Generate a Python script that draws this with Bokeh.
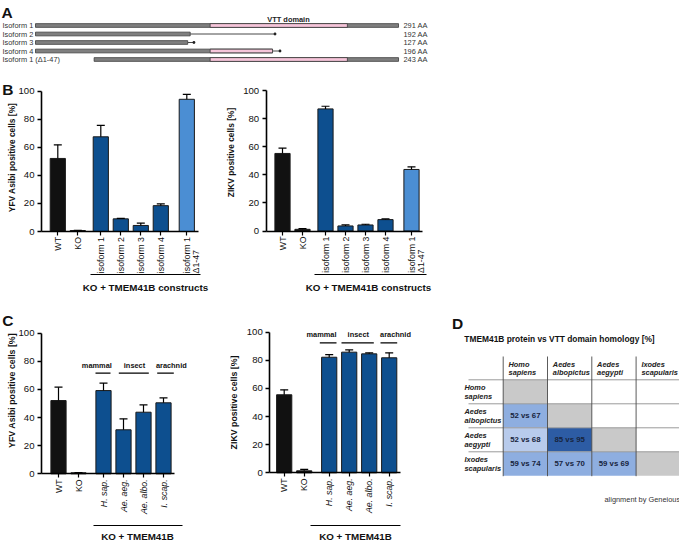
import math
from bokeh.plotting import figure
from bokeh.layouts import column, row
from bokeh.models import FixedTicker, Label, LinearAxis, Spacer
from bokeh.core.properties import value
from bokeh.embed import file_html
from bokeh.resources import INLINE

# ------------------------------------------------------------------ data
# Panel A : TMEM41B isoforms (amino-acid coordinates)
isoform_labels = ["Isoform 1", "Isoform 2", "Isoform 3", "Isoform 4", "Isoform 1 (\u03941-47)"]
isoform_aa = [291, 192, 127, 196, 243]
isoform_start = [0, 0, 0, 0, 47]
isoform_shared_end = [291, 124, 122, 190, 291]
vtt_domain = [140, 250]

# Panel B
b_categories = ["WT", "KO", "isoform 1", "isoform 2", "isoform 3", "isoform 4", "isoform 1|\u03941-47"]
b_kind = ["ctrl", "ctrl", "iso", "iso", "iso", "iso", "delta"]
yfv_b = [52.0, 0.7, 67.4, 9.0, 4.3, 18.4, 94.1]
yfv_b_err = [9.7, 0.2, 8.2, 0.4, 1.7, 1.2, 3.5]
zikv_b = [55.2, 1.2, 86.9, 3.6, 4.3, 8.1, 43.8]
zikv_b_err = [3.8, 0.5, 1.9, 0.7, 0.5, 0.5, 1.9]

# Panel C
c_categories = ["WT", "KO", "H. sap.", "Ae. aeg.", "Ae. albo.", "I. scap."]
c_kind = ["ctrl", "ctrl", "iso", "iso", "iso", "iso"]
yfv_c = [52.1, 0.7, 59.2, 31.3, 43.8, 50.5]
yfv_c_err = [9.5, 0.2, 5.3, 7.8, 5.2, 3.5]
zikv_c = [55.5, 1.4, 82.2, 85.8, 84.6, 81.8]
zikv_c_err = [3.5, 1.0, 1.9, 1.6, 0.7, 3.5]
c_groups = ["mammal", "insect", "arachnid"]

# Panel D : protein vs VTT-domain identity [%]
species = ["Homo sapiens", "Aedes albopictus", "Aedes aegypti", "Ixodes scapularis"]
pair_row = ["Aedes albopictus", "Aedes aegypti", "Aedes aegypti",
            "Ixodes scapularis", "Ixodes scapularis", "Ixodes scapularis"]
pair_col = ["Homo sapiens", "Homo sapiens", "Aedes albopictus",
            "Homo sapiens", "Aedes albopictus", "Aedes aegypti"]
protein_identity = [52, 52, 85, 59, 57, 59]
vtt_identity = [67, 68, 95, 74, 70, 69]

# ------------------------------------------------------------------ style
FONT = "Liberation Sans"
KIND_COLOR = {"ctrl": "#111111", "iso": "#0d4f8f", "delta": "#4b8ed3"}
CELL_FILL = ["#8eaee0", "#b8cbec", "#2d5ca4", "#8eaee0", "#8eaee0", "#8eaee0"]


def fpx(v):
    return value(f"{v:.2f}px")


def spx(v):
    return f"{v:.2f}px"


def base_fig(box, xr, yr):
    bl, bt, br, bb = box
    p = figure(width=int(br - bl), height=int(bb - bt), toolbar_location=None,
               output_backend="svg", x_axis_location=None, y_axis_location=None,
               x_range=xr, y_range=yr, min_border=0,
               min_border_left=0, min_border_right=0, min_border_top=0, min_border_bottom=0)
    p.outline_line_color = None
    p.xgrid.visible = False
    p.ygrid.visible = False
    p.background_fill_color = "white"
    p.border_fill_color = "white"
    return p


def bar_panel(box, axis_x, px0, py100, py0, offsets, cats, kinds, vals, errs,
              italic_from, ylabel, ylabel_xy, ylabel_size, bracket, bracket_text,
              letter=None, groups=None):
    bl, bt, br, bb = box
    ppu = 20.0
    ppy = (py0 - py100) / 100.0
    X = lambda px: (px - px0) / ppu
    Y = lambda py: (py0 - py) / ppy
    p = base_fig(box, (X(bl), X(br)), (Y(bb), Y(bt)))

    pos = [i + o for i, o in enumerate(offsets)]
    half = 0.38

    yax = LinearAxis(ticker=FixedTicker(ticks=[0, 20, 40, 60, 80, 100], minor_ticks=[]),
                     bounds=(0, 100), fixed_location=X(axis_x),
                     axis_line_width=1.6, axis_line_color="black",
                     major_tick_line_width=1.4, major_tick_out=4, major_tick_in=0,
                     minor_tick_out=0, minor_tick_in=0,
                     major_label_text_font=FONT, major_label_text_font_size=spx(9.6),
                     major_label_text_color="#111111", major_label_standoff=3)
    p.add_layout(yax, "left")
    xax = LinearAxis(ticker=FixedTicker(ticks=pos, minor_ticks=[]),
                     bounds=(X(axis_x), pos[-1] + half + 0.18), fixed_location=0,
                     axis_line_width=1.6, axis_line_color="black",
                     major_tick_line_width=1.2, major_tick_out=4, major_tick_in=0,
                     minor_tick_out=0, minor_tick_in=0,
                     major_label_overrides={float(v): "" for v in pos},
                     major_label_text_font_size="1px", major_label_standoff=0)
    p.add_layout(xax, "below")

    colors = [KIND_COLOR[k] for k in kinds]
    p.vbar(x=pos, top=vals, bottom=0, width=2 * half, fill_color=colors,
           line_color="#1a1a1a", line_width=1)
    tops = [v + e for v, e in zip(vals, errs)]
    p.segment(x0=pos, y0=vals, x1=pos, y1=tops, line_color="black", line_width=1.2)
    p.segment(x0=[x - 0.2 for x in pos], y0=tops, x1=[x + 0.2 for x in pos], y1=tops,
              line_color="black", line_width=1.2)

    # category labels (rotated)
    top_y = Y(py0 + 5.5)
    first = [c.split("|")[0] for c in cats]
    reg_i = [i for i in range(len(cats)) if i < italic_from]
    ita_i = [i for i in range(len(cats)) if i >= italic_from]
    for idx, style in ((reg_i, "normal"), (ita_i, "italic")):
        if not idx:
            continue
        p.text(x=[pos[i] for i in idx], y=[top_y] * len(idx), text=[first[i] for i in idx],
               angle=math.pi / 2, text_align="right", text_baseline="middle",
               text_font=value(FONT), text_font_size=fpx(8.8), text_font_style=style,
               text_color="#111111")
    second = [(pos[i], c.split("|")[1]) for i, c in enumerate(cats) if "|" in c]
    if second:
        p.text(x=[s[0] + 0.45 for s in second], y=[Y(py0 + 5.5 + 36.5)] * len(second),
               text=[s[1] for s in second], angle=math.pi / 2, text_align="left",
               text_baseline="middle", text_font=value(FONT), text_font_size=fpx(8.8),
               text_color="#111111")

    # bracket under the axis
    bx0, bx1, by, tx, ty = bracket
    p.segment(x0=[X(bx0)], y0=[Y(by)], x1=[X(bx1)], y1=[Y(by)], line_color="black",
              line_width=1)
    p.add_layout(Label(x=X(tx), y=Y(ty), text=bracket_text, text_align="center",
                       text_baseline="middle", text_font=FONT, text_font_size=spx(9.8),
                       text_font_style="bold", text_color="#111111"))

    # y label
    p.add_layout(Label(x=X(ylabel_xy[0]), y=Y(ylabel_xy[1]), text=ylabel, angle=math.pi / 2,
                       text_align="center", text_baseline="middle", text_font=FONT,
                       text_font_size=spx(ylabel_size), text_font_style="bold",
                       text_color="#111111"))
    if letter is not None:
        lt, lx, ly = letter
        p.add_layout(Label(x=X(lx), y=Y(ly), text=lt, text_align="left",
                           text_baseline="alphabetic", text_font=FONT,
                           text_font_size=spx(15.5), text_font_style="bold",
                           text_color="#111111"))
    if groups is not None:
        gx_text, gx0, gx1, gy_text, gy_line = groups
        p.text(x=[X(v) for v in gx_text], y=[Y(gy_text)] * len(gx_text), text=c_groups,
               text_align="center", text_baseline="middle", text_font=value(FONT),
               text_font_size=fpx(7.4), text_font_style="bold", text_color="#111111")
        p.segment(x0=[X(v) for v in gx0], y0=[Y(gy_line)] * len(gx0),
                  x1=[X(v) for v in gx1], y1=[Y(gy_line)] * len(gx1),
                  line_color="black", line_width=1.3)
    return p


# ------------------------------------------------------------------ panel A
AX = lambda px: (px - 35) / 1.2475
AY = lambda py: (25 - py) / 8.5
boxA = (0, 0, 679, 70)
pA = base_fig(boxA, (AX(0), AX(679)), (AY(70), AY(0)))
rows_y = [-i for i in range(len(isoform_labels))]
tail = [i for i in range(len(isoform_aa)) if isoform_aa[i] > isoform_shared_end[i]]
pA.segment(x0=[isoform_shared_end[i] for i in tail], y0=[rows_y[i] for i in tail],
           x1=[isoform_aa[i] for i in tail], y1=[rows_y[i] for i in tail],
           line_color="#333333", line_width=0.9)
pA.scatter(x=[isoform_aa[i] for i in tail], y=[rows_y[i] for i in tail], marker="circle",
           size=2.8, fill_color="#222222", line_color=None)
pA.hbar(y=rows_y, left=isoform_start, right=isoform_shared_end, height=0.44,
        fill_color="#7f7f7f", line_color="#3a3a3a", line_width=0.8)
vt = [i for i in range(len(isoform_aa)) if isoform_shared_end[i] > vtt_domain[0]]
pA.hbar(y=[rows_y[i] for i in vt], left=[max(isoform_start[i], vtt_domain[0]) for i in vt],
        right=[min(isoform_shared_end[i], vtt_domain[1]) for i in vt], height=0.44,
        fill_color="#f6c5da", line_color="#3a3a3a", line_width=0.8)
pA.text(x=[AX(2)] * len(rows_y), y=rows_y, text=isoform_labels, text_align="left",
        text_baseline="middle", text_font=value(FONT), text_font_size=fpx(7.4),
        text_color="#333333")
pA.text(x=[AX(403)] * len(rows_y), y=rows_y, text=[f"{a} AA" for a in isoform_aa],
        text_align="left", text_baseline="middle", text_font=value(FONT),
        text_font_size=fpx(7.4), text_color="#333333")
pA.text(x=[AX(288)], y=[AY(18.5)], text=["VTT domain"], text_align="center",
        text_baseline="middle", text_font=value(FONT), text_font_size=fpx(7.4),
        text_font_style="bold", text_color="#222222")
pA.text(x=[AX(1)], y=[AY(11.5)], text=["A"], text_align="left", text_baseline="alphabetic",
        text_font=value(FONT), text_font_size=fpx(15.5), text_font_style="bold",
        text_color="#111111")

# ------------------------------------------------------------------ panel B / C
b_off = [0, 0, 0.15, 0.15, 0.15, 0.15, 0.45]
c_off = [0, 0, 0.25, 0.25, 0.25, 0.25]

pB1 = bar_panel((0, 70, 220, 305), 41, 57.3, 90.5, 231, b_off, b_categories, b_kind,
                yfv_b, yfv_b_err, 99, "YFV Asibi positive cells [%]", (11, 157), 8.4,
                (90, 200, 274, 145, 287), "KO + TMEM41B constructs", letter=("B", 1.8, 89))
pB2 = bar_panel((220, 70, 460, 305), 265.7, 282, 90, 230.5, b_off, b_categories, b_kind,
                zikv_b, zikv_b_err, 99, "ZIKV positive cells [%]", (230.5, 152), 8.4,
                (314, 426, 274, 368, 287), "KO + TMEM41B constructs")
pC1 = bar_panel((0, 305, 230, 541), 41, 58, 332.7, 473.3, c_off, c_categories, c_kind,
                yfv_c, yfv_c_err, 2, "YFV Asibi positive cells [%]", (11, 390), 8.8,
                (93, 182, 525, 137, 535.5), "KO + TMEM41B", letter=("C", 1.8, 320),
                groups=([96.3, 134, 170.8], [95, 118.3, 156.7], [110, 148.3, 173.3], 365, 372.7))
pC2 = bar_panel((230, 305, 450, 541), 269.3, 283.7, 331.7, 472.3, c_off, c_categories, c_kind,
                zikv_c, zikv_c_err, 2, "ZIKV positive cells [%]", (233, 402), 8.8,
                (310, 400, 525, 355, 535.5), "KO + TMEM41B",
                groups=([321, 357.8, 395], [319.3, 341, 380], [336, 373.3, 396.7], 334, 342.3))

# ------------------------------------------------------------------ panel D
DX = lambda px: (px - 502.7) / 44.3
DY = lambda py: (379.3 - py) / 24.0
boxD = (450, 305, 679, 541)
pD = base_fig(boxD, (DX(450), DX(679)), (DY(541), DY(305)))
n = len(species)
pD.quad(left=list(range(n)), right=[i + 1 for i in range(n)], top=[-i for i in range(n)],
        bottom=[-i - 1 for i in range(n)], fill_color="#c9c9c9", line_color=None)
ci = [species.index(s) for s in pair_col]
ri = [species.index(s) for s in pair_row]
pD.quad(left=ci, right=[c + 1 for c in ci], top=[-r for r in ri], bottom=[-r - 1 for r in ri],
        fill_color=CELL_FILL, line_color=None)
pD.text(x=[c + 0.5 for c in ci], y=[-r - 0.5 for r in ri],
        text=[f"{a} vs {b}" for a, b in zip(protein_identity, vtt_identity)],
        text_align="center", text_baseline="middle", text_font=value(FONT),
        text_font_size=fpx(7.8), text_font_style="bold", text_color="#17243d")
pD.segment(x0=[DX(468)] * n, y0=[-i for i in range(n)], x1=[DX(679)] * n,
           y1=[-i for i in range(n)], line_color="#9a9a9a", line_width=1)
pD.segment(x0=list(range(n)), y0=[DY(356)] * n, x1=list(range(n)), y1=[DY(475.7)] * n,
           line_color="#4a4a4a", line_width=0.9)
w1 = [s.split(" ")[0] for s in species]
w2 = [s.split(" ")[1] for s in species]
hdr = dict(text_align="left", text_baseline="middle", text_font=value(FONT),
           text_font_size=fpx(7.4), text_font_style="bold italic", text_color="#222222")
pD.text(x=[i + 0.12 for i in range(n)], y=[DY(363.5)] * n, text=w1, **hdr)
pD.text(x=[i + 0.12 for i in range(n)], y=[DY(372.3)] * n, text=w2, **hdr)
rc = [379.3 + 24 * j + 12 for j in range(n)]
pD.text(x=[DX(464)] * n, y=[DY(c - 4.6) for c in rc], text=w1, **hdr)
pD.text(x=[DX(464)] * n, y=[DY(c + 4.4) for c in rc], text=w2, **hdr)
pD.text(x=[DX(559)], y=[DY(338)], text=["TMEM41B protein vs VTT domain homology [%]"],
        text_align="center", text_baseline="middle", text_font=value(FONT),
        text_font_size=fpx(8.4), text_font_style="bold", text_color="#111111")
pD.text(x=[DX(451.5)], y=[DY(323)], text=["D"], text_align="left", text_baseline="alphabetic",
        text_font=value(FONT), text_font_size=fpx(15.5), text_font_style="bold",
        text_color="#111111")
pD.text(x=[DX(604)], y=[DY(498.5)], text=["alignment by Geneious"], text_align="left",
        text_baseline="middle", text_font=value(FONT), text_font_size=fpx(7.4),
        text_color="#333333")

layout = column(pA,
                row(pB1, pB2, Spacer(width=219, height=235)),
                row(pC1, pC2, pD))

open("out.html", "w").write(file_html(layout, INLINE))
